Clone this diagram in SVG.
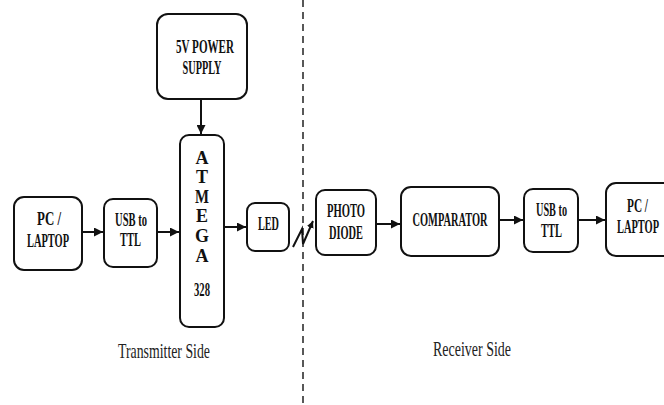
<svg xmlns="http://www.w3.org/2000/svg" width="664" height="405" viewBox="0 0 664 405">
<style>
.box{fill:#fff;stroke:#111;stroke-width:2}
.t{font-family:"Liberation Serif","Times New Roman",serif;font-weight:bold;font-size:18px;fill:#111;text-anchor:middle}
.lbl{font-family:"Liberation Serif","Times New Roman",serif;font-size:22px;fill:#222;text-anchor:middle}
.c{stroke:#111;stroke-width:2;fill:none}
</style>
<defs>
<marker id="a" viewBox="0 0 10 10" refX="10" refY="5" markerWidth="9" markerHeight="9" orient="auto" markerUnits="userSpaceOnUse">
<path d="M0,0 L10,5 L0,10 z" fill="#111"/>
</marker>
<marker id="s" viewBox="0 0 10 10" refX="10" refY="5" markerWidth="7" markerHeight="7" orient="auto" markerUnits="userSpaceOnUse">
<path d="M0,0 L10,5 L0,10 z" fill="#111"/>
</marker>
</defs>
<rect width="664" height="405" fill="#fff"/>
<line x1="303" y1="0" x2="303" y2="405" stroke="#222" stroke-width="1.5" stroke-dasharray="7,5"/>
<g id="connectors">
<line class="c" x1="201" y1="99" x2="201" y2="134" marker-end="url(#a)"/>
<line class="c" x1="82" y1="232" x2="103" y2="232" marker-end="url(#a)"/>
<line class="c" x1="157" y1="232" x2="179" y2="232" marker-end="url(#a)"/>
<line class="c" x1="224" y1="227" x2="246" y2="227" marker-end="url(#a)"/>
<polyline class="c" points="293,247 302,229 303,244 313,221" marker-end="url(#s)"/>
<line class="c" x1="376" y1="224" x2="400" y2="224" marker-end="url(#a)"/>
<line class="c" x1="499" y1="220" x2="523" y2="220" marker-end="url(#a)"/>
<line class="c" x1="578" y1="220" x2="605" y2="220" marker-end="url(#a)"/>
</g>
<g id="power">
<rect class="box" x="157" y="14" width="90" height="85" rx="11"/>
<text class="t" x="205" y="53" textLength="58" lengthAdjust="spacingAndGlyphs">5V POWER</text>
<text class="t" x="202" y="74" textLength="39" lengthAdjust="spacingAndGlyphs">SUPPLY</text>
</g>
<g id="atmega">
<rect class="box" x="180" y="135" width="44" height="192" rx="9"/>
<text class="t" x="202" y="164">A</text>
<text class="t" x="202" y="183">T</text>
<text class="t" x="202" y="203" textLength="14" lengthAdjust="spacingAndGlyphs">M</text>
<text class="t" x="202" y="222">E</text>
<text class="t" x="202" y="242">G</text>
<text class="t" x="202" y="262">A</text>
<text class="t" x="202" y="296" textLength="16" lengthAdjust="spacingAndGlyphs">328</text>
</g>
<g id="pc1">
<rect class="box" x="14" y="197" width="68" height="73" rx="10"/>
<text class="t" x="49" y="225" textLength="24" lengthAdjust="spacingAndGlyphs">PC /</text>
<text class="t" x="48" y="247" textLength="42" lengthAdjust="spacingAndGlyphs">LAPTOP</text>
</g>
<g id="usb1">
<rect class="box" x="104" y="199" width="53" height="68" rx="9"/>
<text class="t" x="131" y="226" textLength="32" lengthAdjust="spacingAndGlyphs">USB to</text>
<text class="t" x="130.5" y="246" textLength="21" lengthAdjust="spacingAndGlyphs">TTL</text>
</g>
<g id="led">
<rect class="box" x="247" y="203" width="42" height="48" rx="8"/>
<text class="t" x="268.5" y="230" textLength="21" lengthAdjust="spacingAndGlyphs">LED</text>
</g>
<g id="photodiode">
<rect class="box" x="316" y="190" width="60" height="65" rx="9"/>
<text class="t" x="346" y="217" textLength="38" lengthAdjust="spacingAndGlyphs">PHOTO</text>
<text class="t" x="346" y="239" textLength="34" lengthAdjust="spacingAndGlyphs">DIODE</text>
</g>
<g id="comparator">
<rect class="box" x="401" y="187" width="98" height="69" rx="10"/>
<text class="t" x="450" y="226" textLength="75" lengthAdjust="spacingAndGlyphs">COMPARATOR</text>
</g>
<g id="usb2">
<rect class="box" x="524" y="189" width="54" height="63" rx="9"/>
<text class="t" x="551.5" y="216" textLength="31" lengthAdjust="spacingAndGlyphs">USB to</text>
<text class="t" x="551.5" y="237" textLength="21" lengthAdjust="spacingAndGlyphs">TTL</text>
</g>
<g id="pc2">
<rect class="box" x="606" y="183" width="70" height="73" rx="10"/>
<text class="t" x="637.5" y="212" textLength="21" lengthAdjust="spacingAndGlyphs">PC /</text>
<text class="t" x="638" y="233" textLength="42" lengthAdjust="spacingAndGlyphs">LAPTOP</text>
</g>
<text class="lbl" x="164" y="358" textLength="92" lengthAdjust="spacingAndGlyphs">Transmitter Side</text>
<text class="lbl" x="472" y="356" textLength="78" lengthAdjust="spacingAndGlyphs">Receiver Side</text>
</svg>
